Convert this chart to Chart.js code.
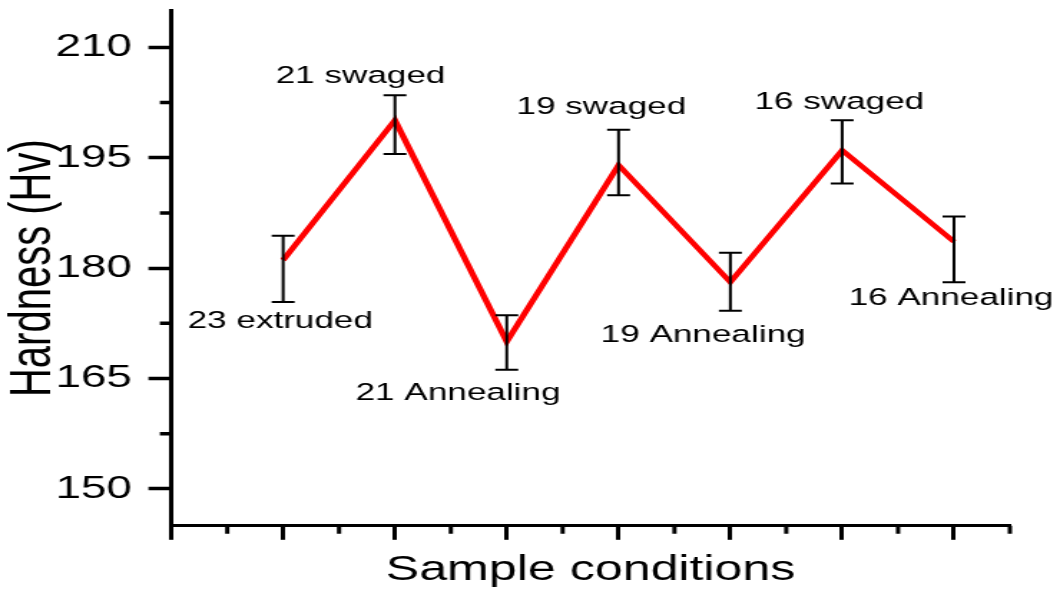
<!DOCTYPE html>
<html><head><meta charset="utf-8">
<script src="https://cdn.jsdelivr.net/npm/chart.js@4.4.0/dist/chart.umd.min.js"></script>
<style>html,body{margin:0;padding:0;background:#fff;overflow:hidden}
#c{display:block;width:1060px !important;height:594px !important}</style>
</head><body>
<canvas id="c" width="740" height="594" style="width:1060px;height:594px"></canvas>
<script>
// ---- data ----
const categories = ['23 extruded','21 swaged','21 Annealing','19 swaged','19 Annealing','16 swaged','16 Annealing'];
const hardness = [181.1, 200.1, 170.0, 194.0, 178.1, 196.0, 183.6];
const errUp   = [3.3, 3.4, 3.6, 4.8, 4.0, 4.1, 3.4];
const errDown = [5.7, 4.6, 3.8, 4.1, 3.9, 4.5, 5.5];
const yTicks = [150, 165, 180, 195, 210];
const xTicks = [0, 1, 2, 3, 4, 5, 6, 7];
const xTitle = 'Sample conditions';
const yTitle = 'Hardness (Hv)';
// annotation placement (px offsets from each point)
const labelOffsets = [[-2,68],[-24,-37],[-34,58],[-12,-51],[-19,60],[-2,-41],[-2,63]];

const FONT = '"Liberation Sans", Arial, Helvetica, sans-serif';

const extras = {
  id: 'extras',
  afterDatasetsDraw(chart) {
    const ctx = chart.ctx, x = chart.scales.x, y = chart.scales.y;
    ctx.save();
    // error bars
    ctx.strokeStyle = '#000'; ctx.lineWidth = 2; ctx.lineCap = 'butt';
    hardness.forEach((v, i) => {
      const px = x.getPixelForValue(i + 1);
      const yt = y.getPixelForValue(v + errUp[i]);
      const yb = y.getPixelForValue(v - errDown[i]);
      ctx.beginPath();
      ctx.moveTo(px, yt); ctx.lineTo(px, yb);
      ctx.moveTo(px - 8, yt); ctx.lineTo(px + 8, yt);
      ctx.moveTo(px - 8, yb); ctx.lineTo(px + 8, yb);
      ctx.stroke();
    });
    // annotations
    ctx.fillStyle = '#000';
    ctx.font = '24.5px ' + FONT;
    ctx.textAlign = 'center'; ctx.textBaseline = 'alphabetic';
    categories.forEach((c, i) => {
      const px = x.getPixelForValue(i + 1), py = y.getPixelForValue(hardness[i]);
      ctx.fillText(c, px + labelOffsets[i][0], py + labelOffsets[i][1]);
    });
    // minor ticks
    ctx.beginPath();
    ctx.lineWidth = 3.5;
    for (let k = 0; k < yTicks.length - 1; k++) {
      const py = y.getPixelForValue((yTicks[k] + yTicks[k + 1]) / 2);
      ctx.moveTo(y.right - 8, py); ctx.lineTo(y.right, py);
    }
    ctx.stroke();
    ctx.beginPath();
    ctx.lineWidth = 3;
    for (let k = 0; k < xTicks.length; k++) {
      const px = x.getPixelForValue(xTicks[k] + 0.5);
      ctx.moveTo(px, x.top); ctx.lineTo(px, x.top + 8);
    }
    ctx.stroke();
    ctx.restore();
  }
};

new Chart(document.getElementById('c'), {
  type: 'line',
  data: {
    datasets: [{
      data: categories.map((c, i) => ({ x: i + 1, y: hardness[i] })),
      borderColor: '#ff0000', borderWidth: 4.5, pointRadius: 0, tension: 0,
      borderJoinStyle: 'miter', fill: false
    }]
  },
  options: {
    responsive: false, animation: false, devicePixelRatio: 1,
    layout: { padding: { left: 0, right: 35, top: 10.5, bottom: 0 } },
    plugins: { legend: { display: false }, tooltip: { enabled: false } },
    scales: {
      x: {
        type: 'linear', min: 0, max: 7.5,
        afterBuildTicks: s => { s.ticks = xTicks.map(v => ({ value: v })); },
        afterFit: s => { s.height = 68.2; s.paddingLeft = 0; s.paddingRight = 0; },
        ticks: { callback: () => '', autoSkip: false },
        grid: { display: true, drawOnChartArea: false, drawTicks: true, tickLength: 14, tickWidth: 3, tickColor: '#000' },
        border: { display: true, color: '#000', width: 3 },
        title: { display: true, text: xTitle, color: '#000', font: { family: FONT, size: 35 }, padding: { top: 0, bottom: 3 } }
      },
      y: {
        type: 'linear', min: 145, max: 215,
        afterBuildTicks: s => { s.ticks = yTicks.map(v => ({ value: v })); },
        afterFit: s => { s.width = 119.6; s.paddingTop = 0; s.paddingBottom = 0; },
        ticks: { color: '#000', font: { family: FONT, size: 32 }, padding: 11.5, autoSkip: false },
        grid: { display: true, drawOnChartArea: false, drawTicks: true, tickLength: 16, tickWidth: 3.5, tickColor: '#000' },
        border: { display: true, color: '#000', width: 3 },
        title: { display: true, text: yTitle, color: '#000', font: { family: FONT, size: 40 }, padding: { top: 0, bottom: 0 } }
      }
    }
  },
  plugins: [extras]
});
</script>
</body></html>
